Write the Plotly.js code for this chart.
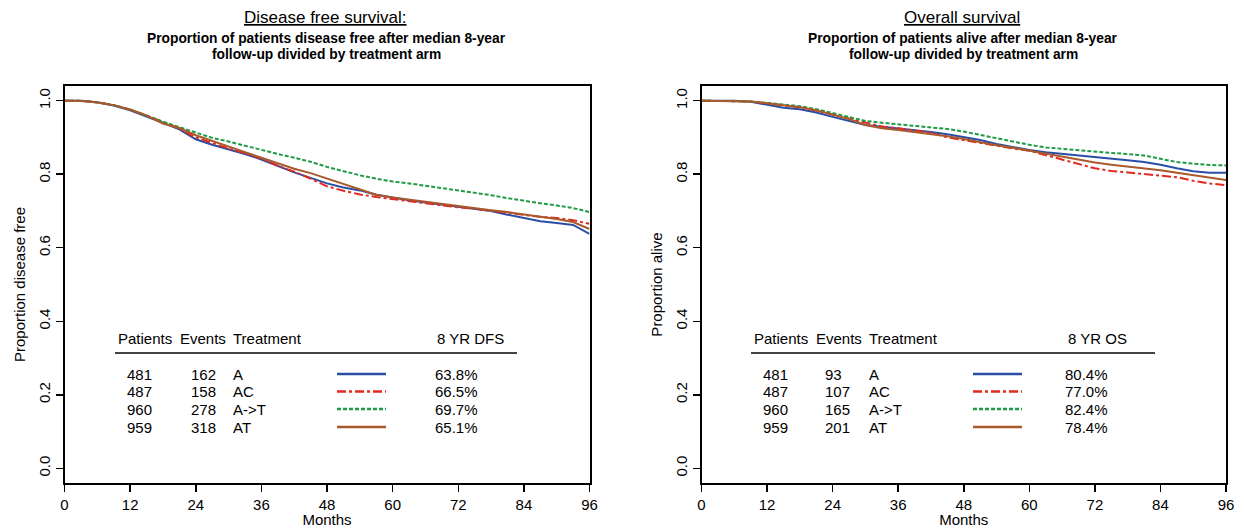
<!DOCTYPE html>
<html>
<head>
<meta charset="utf-8">
<script src="https://cdn.plot.ly/plotly-3.0.1.min.js"></script>
<style>html,body{margin:0;padding:0;background:#fff;}#chart{width:1244px;height:528px;}</style>
</head>
<body>
<div id="chart"></div>
<script>
// ---------- DATA ----------
const months = [0,3,6,9,12,15,18,21,24,27,30,33,36,39,42,45,48,51,54,57,60,63,66,69,72,75,78,81,84,87,90,93,96];

const treatments = ["A", "AC", "A->T", "AT"];
const patients = [481, 487, 960, 959];
const dfsEvents = [162, 158, 278, 318];
const osEvents = [93, 107, 165, 201];
const dfs8yr = ["63.8%", "66.5%", "69.7%", "65.1%"];
const os8yr = ["80.4%", "77.0%", "82.4%", "78.4%"];

// Disease free survival curves
const dfsA   = [1.0,1.0,0.996,0.987,0.974,0.958,0.940,0.922,0.895,0.880,0.868,0.855,0.840,0.822,0.805,0.790,0.775,0.764,0.756,0.744,0.736,0.729,0.723,0.717,0.710,0.706,0.700,0.690,0.680,0.672,0.667,0.662,0.638];
const dfsAC  = [1.0,1.0,0.996,0.988,0.975,0.960,0.942,0.924,0.900,0.884,0.870,0.857,0.842,0.823,0.807,0.788,0.767,0.755,0.745,0.738,0.732,0.726,0.720,0.714,0.710,0.706,0.700,0.694,0.689,0.684,0.681,0.675,0.665];
const dfsAT_seq = [1.0,1.0,0.995,0.988,0.976,0.959,0.943,0.928,0.913,0.899,0.889,0.877,0.866,0.855,0.845,0.834,0.820,0.808,0.797,0.788,0.780,0.775,0.769,0.763,0.757,0.750,0.743,0.735,0.727,0.721,0.715,0.708,0.697];
const dfsAT  = [1.0,0.999,0.995,0.988,0.976,0.960,0.938,0.926,0.906,0.890,0.875,0.860,0.845,0.830,0.815,0.803,0.788,0.772,0.757,0.744,0.737,0.731,0.727,0.719,0.713,0.708,0.702,0.697,0.691,0.684,0.678,0.670,0.651];

// Overall survival curves
const osA   = [1.0,1.0,1.0,0.997,0.990,0.981,0.977,0.968,0.956,0.945,0.934,0.929,0.925,0.919,0.915,0.909,0.901,0.893,0.882,0.873,0.866,0.860,0.856,0.851,0.847,0.843,0.838,0.833,0.826,0.816,0.808,0.804,0.804];
const osAC  = [1.0,1.0,1.0,0.998,0.993,0.988,0.982,0.973,0.962,0.950,0.939,0.930,0.925,0.920,0.913,0.900,0.892,0.884,0.876,0.870,0.864,0.852,0.840,0.828,0.816,0.809,0.804,0.800,0.796,0.792,0.782,0.775,0.770];
const osAT_seq = [1.0,1.0,1.0,0.998,0.994,0.989,0.985,0.977,0.966,0.955,0.945,0.940,0.936,0.932,0.928,0.923,0.916,0.907,0.896,0.887,0.880,0.873,0.869,0.864,0.861,0.858,0.855,0.851,0.842,0.833,0.829,0.825,0.824];
const osAT  = [1.0,1.0,1.0,0.998,0.993,0.988,0.982,0.974,0.962,0.950,0.934,0.925,0.920,0.915,0.910,0.903,0.896,0.887,0.879,0.872,0.864,0.855,0.846,0.838,0.832,0.826,0.821,0.818,0.811,0.804,0.797,0.791,0.784];

const xTicks = [0,12,24,36,48,60,72,84,96];
const yTicks = [0,0.2,0.4,0.6,0.8,1.0];

// ---------- STYLE ----------
const W = 1244, H = 528;
const FONT = "Arial, 'Liberation Sans', sans-serif";
const colors = ["#2a4ea6", "#e3281e", "#1f9a45", "#a9592b"];
const dashes = ["solid", "dashdot", "4px,2px", "solid"];

const dfsSeries = [dfsA, dfsAC, dfsAT_seq, dfsAT];
const osSeries = [osA, osAC, osAT_seq, osAT];

const px = x => x / W;
const py = y => 1 - y / H;

const traces = [];
dfsSeries.forEach((s, i) => traces.push({
  x: months, y: s, xaxis: 'x', yaxis: 'y', type: 'scatter', mode: 'lines',
  name: treatments[i], showlegend: false, hoverinfo: 'skip',
  line: {color: colors[i], width: 2, dash: dashes[i]}
}));
osSeries.forEach((s, i) => traces.push({
  x: months, y: s, xaxis: 'x2', yaxis: 'y2', type: 'scatter', mode: 'lines',
  name: treatments[i], showlegend: false, hoverinfo: 'skip',
  line: {color: colors[i], width: 2, dash: dashes[i]}
}));

const yDom = [py(483), py(86)];
function xa(dom) {
  return {
    domain: dom, range: [0, 96], tickvals: xTicks, ticktext: xTicks.map(String),
    showgrid: false, zeroline: false, showline: true, mirror: true,
    linecolor: '#000', linewidth: 2, ticks: 'outside', ticklen: 7, tickwidth: 1.5,
    tickcolor: '#000', tickfont: {family: FONT, size: 15, color: '#000'},
    title: {text: 'Months', font: {family: FONT, size: 15, color: '#000'}, standoff: 6},
    automargin: false, fixedrange: true
  };
}
function ya(title) {
  return {
    domain: yDom, range: [-0.04, 1.04], tickvals: yTicks, ticktext: yTicks.map(v => v.toFixed(1)),
    tickangle: -90,
    showgrid: false, zeroline: false, showline: true, mirror: true,
    linecolor: '#000', linewidth: 2, ticks: 'outside', ticklen: 7, tickwidth: 1.5,
    tickcolor: '#000', tickfont: {family: FONT, size: 15, color: '#000'},
    title: {text: title, font: {family: FONT, size: 15, color: '#000'}, standoff: 6},
    automargin: false, fixedrange: true
  };
}

const annotations = [];
const shapes = [];
function addText(x, y, text, size, anchor) {
  annotations.push({xref: 'paper', yref: 'paper', x: px(anchor === 'center' ? x : x - 2), y: py(y), text: text,
    showarrow: false, xanchor: anchor || 'left', yanchor: 'middle',
    font: {family: FONT, size: size, color: '#000'}});
}

// Titles
addText(325, 18, '<u>Disease free survival:</u>', 17, 'center');
addText(326, 38, '<b>Proportion of patients disease free after median 8-year</b>', 13.8, 'center');
addText(326, 55, '<b>follow-up divided by treatment arm</b>', 13.8, 'center');
addText(962, 18, '<u>Overall survival</u>', 17, 'center');
addText(963, 38, '<b>Proportion of patients alive after median 8-year</b>', 13.8, 'center');
addText(963, 55, '<b>follow-up divided by treatment arm</b>', 13.8, 'center');

// Tables
const rowY = [374, 391.5, 409, 427];
const TS = 15;
function table(off, events, pct, pctHead, ruleEnd, pctX, headPctX, evX) {
  addText(118 + off, 338, 'Patients', TS);
  addText(180 + off, 338, 'Events', TS);
  addText(233 + off, 338, 'Treatment', TS);
  addText(headPctX, 338, pctHead, TS);
  shapes.push({type: 'line', xref: 'paper', yref: 'paper', x0: px(115 + off), x1: px(ruleEnd),
    y0: py(353), y1: py(353), line: {color: '#444', width: 2}});
  for (let i = 0; i < 4; i++) {
    addText(127 + off, rowY[i], String(patients[i]), TS);
    addText(evX, rowY[i], String(events[i]), TS);
    addText(233 + off, rowY[i], treatments[i], TS);
    addText(pctX, rowY[i], pct[i], TS);
    shapes.push({type: 'line', xref: 'paper', yref: 'paper', x0: px(337 + off), x1: px(386 + off),
      y0: py(rowY[i]), y1: py(rowY[i]), line: {color: colors[i], width: 2.5, dash: dashes[i]}});
  }
}
table(0, dfsEvents, dfs8yr, '8 YR DFS', 517, 435, 437, 191);
table(636, osEvents, os8yr, '8 YR OS', 1155, 1065, 1068, 825);

const layout = {
  width: W, height: H,
  margin: {l: 0, r: 0, t: 0, b: 0},
  paper_bgcolor: '#fff', plot_bgcolor: '#fff',
  showlegend: false,
  xaxis: xa([px(64.5), px(589.5)]),
  yaxis: ya('Proportion disease free'),
  xaxis2: Object.assign(xa([px(701.5), px(1226)]), {anchor: 'y2'}),
  yaxis2: Object.assign(ya('Proportion alive'), {anchor: 'x2'}),
  annotations: annotations,
  shapes: shapes
};
layout.xaxis.anchor = 'y';
layout.yaxis.anchor = 'x';

Plotly.newPlot('chart', traces, layout, {staticPlot: true, displayModeBar: false});
</script>
</body>
</html>
